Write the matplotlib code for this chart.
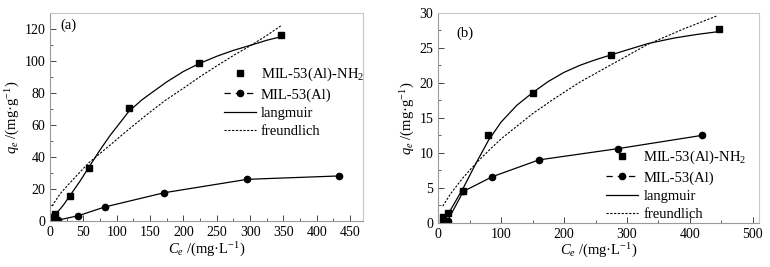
import matplotlib
matplotlib.use("Agg")
import matplotlib.pyplot as plt
from matplotlib.lines import Line2D
from matplotlib.ticker import MultipleLocator

plt.rcParams["font.family"] = ["Liberation Serif", "DejaVu Serif"]
plt.rcParams["mathtext.fontset"] = "custom"
plt.rcParams["mathtext.rm"] = "Liberation Serif"
plt.rcParams["mathtext.it"] = "Liberation Serif:italic"

# ---- panel (a) data ----
a_nh2_x = [3, 8, 30, 58, 118, 224, 346]
a_nh2_y = [2.5, 4.4, 15.8, 33, 70.8, 98.5, 116]
a_al_x = [4, 12, 42, 82, 171, 296, 433]
a_al_y = [2.3, 0.6, 3.3, 8.8, 17.7, 26.1, 28.2]
a_lang_x = [3, 8, 20, 30, 45, 58, 75, 90, 105, 118, 137, 150, 175, 200, 224, 250, 275, 300, 325, 346]
a_lang_y = [1.5, 4.0, 10.0, 16.0, 25.0, 33.5, 44.5, 53.5, 61.5, 68.5, 75.5, 79.5, 87, 93.5, 98.5, 103, 106.7, 109.8, 113, 115.2]
a_freu_x = [3, 15, 30, 57, 80, 100, 117, 145, 173, 200, 224, 250, 275, 300, 325, 346]
a_freu_y = [9.4, 17, 24, 36, 44, 51, 57, 66.5, 75.5, 83, 90, 97, 103.5, 109.5, 116, 122]

# ---- panel (b) data ----
b_nh2_x = [7, 15, 40, 80, 150, 275, 446]
b_nh2_y = [0.8, 1.45, 4.5, 12.6, 18.5, 24.0, 27.7]
b_al_x = [7, 15, 40, 86, 160, 285, 419]
b_al_y = [0.25, 0.3, 4.5, 6.6, 9.0, 10.6, 12.5]
b_lang_x = [8.5, 20, 40, 60, 80, 100, 125, 150, 175, 200, 225, 250, 275, 300, 333, 375, 410, 444]
b_lang_y = [0.3, 1.9, 5.0, 8.5, 11.8, 14.4, 16.8, 18.6, 20.2, 21.5, 22.5, 23.3, 24.0, 24.7, 25.6, 26.4, 26.9, 27.3]
b_freu_x = [7.4, 20, 40, 61, 80, 100, 125, 150, 182, 225, 275, 333, 390, 444]
b_freu_y = [2.4, 4.2, 6.5, 8.6, 10.3, 12.0, 13.8, 15.6, 17.6, 20.1, 22.6, 25.5, 27.7, 29.6]

labels = ["MIL-53(Al)-NH$_2$", "MIL-53(Al)", "langmuir", "freundlich"]

fig = plt.figure(figsize=(7.7, 2.67), dpi=100)
ax_a = fig.add_axes([0.065, 0.172, 0.407, 0.779])
ax_b = fig.add_axes([0.569, 0.165, 0.417, 0.787])

FREU_LS = (0, (2, 1.4))


def draw(ax, nh2x, nh2y, alx, aly, lx, ly, fx, fy):
    ax.plot(lx, ly, color="black", lw=0.9)
    ax.plot(fx, fy, color="black", lw=0.8, ls=FREU_LS)
    ax.plot(alx, aly, color="black", lw=0.9, marker="o", ms=4.5)
    ax.plot(nh2x, nh2y, ls="none", color="black", marker="s", ms=4)
    for s in ax.spines.values():
        s.set_color("#9a9a9a")
        s.set_linewidth(0.8)
    ax.spines["top"].set_color("#c8c8c8")
    ax.spines["right"].set_color("#c8c8c8")
    ax.tick_params(which="both", direction="in", top=False, right=False,
                   labelsize=10, color="#444444")
    ax.tick_params(which="major", length=4, width=0.7)
    ax.tick_params(which="minor", length=2.5, width=0.6)
    ax.set_xlabel(r"$C_e$ /(mg·L$^{-1}$)", fontsize=10.5, labelpad=1)
    ax.set_ylabel(r"$q_e$ /(mg·g$^{-1}$)", fontsize=10.5, labelpad=2)


def legend_handles():
    return [
        Line2D([], [], ls="none", marker="s", ms=4, color="black"),
        Line2D([], [], ls=(0, (5, 4)), marker="o", ms=4.5, color="black", lw=0.9),
        Line2D([], [], ls="-", color="black", lw=0.9),
        Line2D([], [], ls=FREU_LS, color="black", lw=0.8),
    ]


draw(ax_a, a_nh2_x, a_nh2_y, a_al_x, a_al_y, a_lang_x, a_lang_y, a_freu_x, a_freu_y)
ax_a.set_xlim(0, 470)
ax_a.set_ylim(0, 130)
ax_a.xaxis.set_major_locator(MultipleLocator(50))
ax_a.xaxis.set_minor_locator(MultipleLocator(25))
ax_a.yaxis.set_major_locator(MultipleLocator(20))
ax_a.yaxis.set_minor_locator(MultipleLocator(10))
ax_a.text(0.032, 0.94, "(a)", transform=ax_a.transAxes, fontsize=10.5, va="center")
ax_a.legend(legend_handles(), labels, loc="upper left", bbox_to_anchor=(0.535, 0.775),
            frameon=False, fontsize=10.5, handlelength=2.2, handletextpad=0.35,
            labelspacing=0.35, borderaxespad=0)

draw(ax_b, b_nh2_x, b_nh2_y, b_al_x, b_al_y, b_lang_x, b_lang_y, b_freu_x, b_freu_y)
ax_b.set_xlim(0, 510)
ax_b.set_ylim(0, 30)
ax_b.xaxis.set_major_locator(MultipleLocator(100))
ax_b.xaxis.set_minor_locator(MultipleLocator(50))
ax_b.yaxis.set_major_locator(MultipleLocator(5))
ax_b.yaxis.set_minor_locator(MultipleLocator(2.5))
ax_b.text(0.058, 0.905, "(b)", transform=ax_b.transAxes, fontsize=10.5, va="center")
ax_b.legend(legend_handles(), labels, loc="lower left", bbox_to_anchor=(0.505, -0.02),
            frameon=False, fontsize=10.5, handlelength=2.2, handletextpad=0.35,
            labelspacing=0.35, borderaxespad=0)

fig.savefig("out.png", dpi=100)
